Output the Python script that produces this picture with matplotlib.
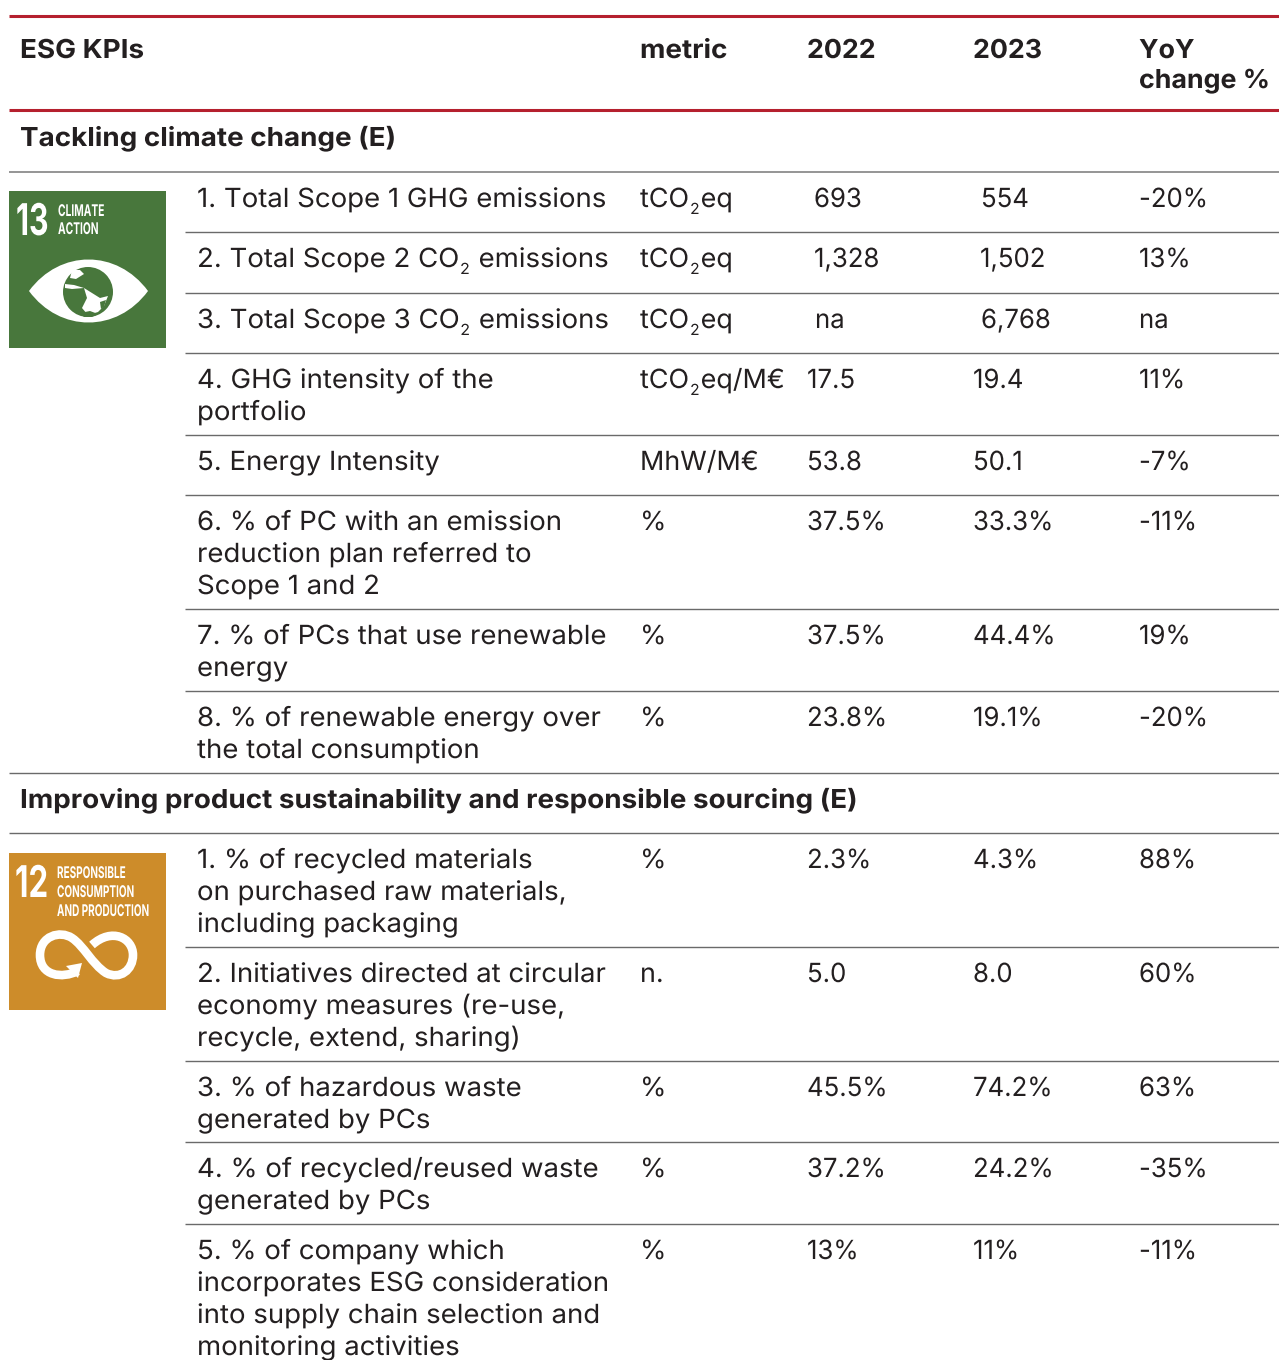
import matplotlib
matplotlib.use("Agg")
import matplotlib.pyplot as plt
from matplotlib.patches import Rectangle, PathPatch, Circle, Polygon
from matplotlib.path import Path
from matplotlib.patheffects import AbstractPathEffect, withStroke
from matplotlib.transforms import Affine2D

W, H = 1279, 1360
FONT = "Inter"
BODY, KPI_SX, MET_SX, VAL_SX = 19.0, 1.045, 1.02, 0.975
HEAD, HEAD_SX, HEAD_NUM_SX = 18.8, 1.066, 1.025
INK = "#231f20"

headers = ["ESG KPIs", "metric", "2022", "2023", "YoY\nchange %"]
section_titles = ["Tackling climate change (E)",
                  "Improving product sustainability and responsible sourcing (E)"]

kpis_e1 = ["1. Total Scope 1 GHG emissions", "2. Total Scope 2 CO_2 emissions",
           "3. Total Scope 3 CO_2 emissions", "4. GHG intensity of the\nportfolio",
           "5. Energy Intensity",
           "6. % of PC with an emission\nreduction plan referred to\nScope 1 and 2",
           "7. % of PCs that use renewable\nenergy",
           "8. % of renewable energy over\nthe total consumption"]
metric_e1 = ["tCO_2eq", "tCO_2eq", "tCO_2eq", "tCO_2eq/M€", "MhW/M€", "%", "%", "%"]
v2022_e1 = ["693", "1,328", "na", "17.5", "53.8", "37.5%", "37.5%", "23.8%"]
v2023_e1 = ["554", "1,502", "6,768", "19.4", "50.1", "33.3%", "44.4%", "19.1%"]
yoy_e1 = ["-20%", "13%", "na", "11%", "-7%", "-11%", "19%", "-20%"]

kpis_e2 = ["1. % of recycled materials\non purchased raw materials,\nincluding packaging",
           "2. Initiatives directed at circular\neconomy measures (re-use,\nrecycle, extend, sharing)",
           "3. % of hazardous waste\ngenerated by PCs",
           "4. % of recycled/reused waste\ngenerated by PCs",
           "5. % of company which\nincorporates ESG consideration\ninto supply chain selection and\nmonitoring activities"]
metric_e2 = ["%", "n.", "%", "%", "%"]
v2022_e2 = ["2.3%", "5.0", "45.5%", "37.2%", "13%"]
v2023_e2 = ["4.3%", "8.0", "74.2%", "24.2%", "11%"]
yoy_e2 = ["88%", "60%", "63%", "-35%", "-11%"]

# layout (pixels)
row_tops_e1 = [172, 232, 293, 353, 435, 495, 609, 691]
row_tops_e2 = [833, 947, 1061, 1142, 1224]
rule_rows = [232, 293, 353, 435, 495, 609, 691, 947, 1061, 1142, 1224]
full_rows = [773, 833]
X_KPI, X_MET, X_22, X_23, X_YOY = 197, 640, 807, 973, 1139
LINE = 32

fig = plt.figure(figsize=(W / 100, H / 100), dpi=100, facecolor="white")
ax = fig.add_axes([0, 0, 1, 1])
ax.set_xlim(0, W)
ax.set_ylim(H, 0)
ax.axis("off")
rend = fig.canvas.get_renderer()


class Stretch(AbstractPathEffect):
    """Scale a text's glyphs about its baseline origin (keeps it real text)."""
    def __init__(self, x0, y0, sx=1.0, sy=1.0):
        super().__init__()
        self.x0, self.y0, self.sx, self.sy = x0, y0, sx, sy

    def draw_path(self, renderer, gc, tpath, affine, rgbFace=None):
        a = affine + Affine2D().translate(-self.x0, -self.y0).scale(self.sx, self.sy).translate(self.x0, self.y0)
        renderer.draw_path(gc, tpath, a, rgbFace)


def stext(x, y, s, size, sx=1.0, sy=1.0, color=INK, weight="normal"):
    t = ax.text(x, y, s, fontsize=size, family=FONT, weight=weight, color=color,
                va="baseline", ha="left")
    x0, y0 = ax.transData.transform((x, y))
    t.set_path_effects([Stretch(x0, y0, sx, sy)])
    return t.get_window_extent(rend).width * sx


def put(x, y, s, size=BODY, sx=KPI_SX, weight="normal", line=LINE):
    """Draw possibly multi-line text; '_2' is set as a subscript 2."""
    for i, ln in enumerate(s.split("\n")):
        yy = y + i * line
        parts = ln.split("_2")
        cx = x
        for j, part in enumerate(parts):
            if part:
                cx += stext(cx, yy, part, size, sx, weight=weight) + 1
            if j < len(parts) - 1:
                cx += stext(cx, yy + 7, "2", size * 0.58, sx, weight=weight) + 1


# rules
for y in (16, 110):
    ax.plot([9, W], [y, y], color="#b5202e", lw=2.2, solid_capstyle="butt")
ax.plot([9, W], [172, 172], color="#8c8c8c", lw=1.3, solid_capstyle="butt")
for y in rule_rows:
    ax.plot([185, W], [y, y], color="#6a6a6a", lw=1.0, solid_capstyle="butt")
for y in full_rows:
    ax.plot([9, W], [y, y], color="#6a6a6a", lw=1.0, solid_capstyle="butt")

# header
for x, h, sx in zip([20, X_MET, X_22, X_23, X_YOY], headers,
                    [HEAD_SX, HEAD_SX, HEAD_NUM_SX, HEAD_NUM_SX, HEAD_NUM_SX]):
    put(x, 58, h, size=HEAD, sx=sx, weight="bold", line=30)
put(20, 146, section_titles[0], size=HEAD, sx=HEAD_SX, weight="bold")
put(20, 808, section_titles[1], size=HEAD, sx=HEAD_SX, weight="bold")

# body
offset_rows = {0: (7, 8), 1: (7, 7), 2: (8, 8)}
for i, top in enumerate(row_tops_e1):
    b = top + 35
    d22, d23 = offset_rows.get(i, (0, 0))
    put(X_KPI, b, kpis_e1[i])
    put(X_MET, b, metric_e1[i], sx=MET_SX)
    put(X_22 + d22, b, v2022_e1[i], sx=VAL_SX)
    put(X_23 + d23, b, v2023_e1[i], sx=VAL_SX)
    put(X_YOY, b, yoy_e1[i], sx=VAL_SX)
for i, top in enumerate(row_tops_e2):
    b = top + 35
    put(X_KPI, b, kpis_e2[i])
    put(X_MET, b, metric_e2[i], sx=MET_SX)
    put(X_22, b, v2022_e2[i], sx=VAL_SX)
    put(X_23, b, v2023_e2[i], sx=VAL_SX)
    put(X_YOY, b, yoy_e2[i], sx=VAL_SX)

# --- SDG 13 icon ---
GREEN = "#48773c"
ax.add_patch(Rectangle((9, 191), 157, 157, fc=GREEN, ec="none"))
stext(16, 235, "13", 15, sx=1.45, sy=2.1, color="white", weight="bold")
stext(58, 216, "CLIMATE", 8, sx=0.92, sy=1.45, color="white", weight="bold")
stext(58, 234, "ACTION", 8, sx=0.92, sy=1.45, color="white", weight="bold")
eye = Path([(29, 291), (60, 249), (117, 249), (148, 291), (117, 333), (60, 333), (29, 291)],
           [Path.MOVETO, Path.CURVE4, Path.CURVE4, Path.CURVE4, Path.CURVE4, Path.CURVE4, Path.CURVE4])
ax.add_patch(PathPatch(eye, fc="white", ec="none"))
ax.add_patch(Circle((88, 292), 25, fc=GREEN, ec="none"))
ax.add_patch(Polygon([(72, 270), (80, 270), (84, 274), (76, 279), (70, 278)], fc="white", ec="none"))
ax.add_patch(Polygon([(65, 284), (74, 285), (84, 288), (72, 289), (65, 288)], fc="white", ec="none"))
ax.add_patch(Polygon([(84, 288), (92, 293), (100, 298), (108, 296), (104, 306), (98, 312),
                      (88, 315), (82, 308), (87, 298)], fc="white", ec="none"))
ax.add_patch(Polygon([(80, 313), (90, 311), (98, 314), (92, 317), (84, 317)], fc=GREEN, ec="none"))
ax.add_patch(Polygon([(100, 302), (106, 300), (104, 307), (101, 309)], fc=GREEN, ec="none"))

# --- SDG 12 icon ---
GOLD = "#cd8c2a"
ax.add_patch(Rectangle((9, 853), 157, 157, fc=GOLD, ec="none"))
stext(15, 897, "12", 15, sx=1.5, sy=2.1, color="white", weight="bold")
for y, s in zip([878, 897, 916], ["RESPONSIBLE", "CONSUMPTION", "AND PRODUCTION"]):
    stext(57, y, s, 8, sx=0.9, sy=1.45, color="white", weight="bold")
inf = Path([(78, 971), (62, 979), (40, 976), (40, 955),
            (40, 936), (60, 930), (72, 938),
            (84, 946), (92, 964), (106, 973),
            (120, 980), (133, 970), (133, 955),
            (133, 938), (112, 927), (92, 945)],
           [Path.MOVETO] + [Path.CURVE4] * 15)
ax.add_patch(PathPatch(inf, fc="none", ec="white", lw=6.2, capstyle="butt"))
ax.add_patch(Polygon([(66, 966), (82, 963), (78, 978)], fc="white", ec="none"))

fig.savefig("out.png", dpi=100, facecolor="white")
